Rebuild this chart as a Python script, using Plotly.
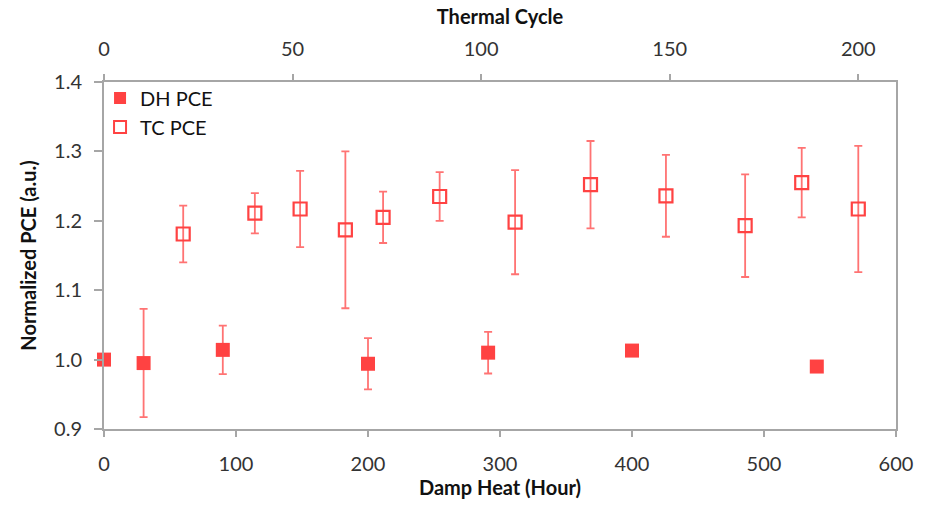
import plotly.graph_objects as go

# Damp heat series (bottom axis, hours)
dh_hours = [0, 30, 90, 200, 291, 400, 540]
dh_pce = [1.000, 0.995, 1.014, 0.994, 1.010, 1.013, 0.990]
dh_err = [0.0, 0.078, 0.035, 0.037, 0.030, 0.005, 0.0]

# Thermal cycle series (top axis, cycles)
tc_cycles = [21, 40, 52, 64, 74, 89, 109, 129, 149, 170, 185, 200]
tc_pce = [1.181, 1.211, 1.217, 1.187, 1.205, 1.235, 1.198, 1.252, 1.236, 1.193, 1.255, 1.217]
tc_err = [0.041, 0.029, 0.055, 0.113, 0.037, 0.035, 0.075, 0.063, 0.059, 0.074, 0.050, 0.091]

bottom_ticks = [0, 100, 200, 300, 400, 500, 600]
top_ticks = [0, 50, 100, 150, 200]
y_ticks = [0.9, 1.0, 1.1, 1.2, 1.3, 1.4]

RED = "#FF4242"
ERR = "rgba(255,90,90,0.85)"
AX = "#A6A6A6"
FONT = "Lato, Carlito, 'Liberation Sans', sans-serif"
TICKC = "#333"

fig = go.Figure()
fig.add_trace(go.Scatter(
    x=dh_hours, y=dh_pce, mode="markers", name="DH PCE",
    marker=dict(symbol="square", size=14, color=RED, line=dict(width=0)),
    error_y=dict(type="data", array=dh_err, color=ERR, thickness=1.8, width=4),
    cliponaxis=False,
    xaxis="x", yaxis="y",
))
fig.add_trace(go.Scatter(
    x=tc_cycles, y=tc_pce, mode="markers", name="TC PCE",
    marker=dict(symbol="square-open", size=13, color=RED, line=dict(width=2.2, color=RED)),
    error_y=dict(type="data", array=tc_err, color=ERR, thickness=1.8, width=4),
    cliponaxis=False,
    xaxis="x2", yaxis="y",
))

fig.update_layout(
    width=925, height=507,
    margin=dict(l=104, r=26, t=82, b=78),
    paper_bgcolor="white", plot_bgcolor="white",
    font=dict(family=FONT, size=20, color="#222"),
    showlegend=True,
    legend=dict(x=-0.005, y=1.01, xanchor="left", yanchor="top",
                bgcolor="rgba(0,0,0,0)", font=dict(size=20, color="#111"),
                itemsizing="constant", tracegroupgap=6, itemwidth=30),
    xaxis=dict(
        range=[0, 600], tickvals=bottom_ticks, showgrid=False, zeroline=False,
        showline=True, linecolor=AX, linewidth=2, ticks="outside", ticklen=6,
        tickcolor=AX, tickwidth=1.5, tickfont=dict(size=20, color=TICKC),
        ticklabelstandoff=10,
        title=dict(text="<b>Damp Heat (Hour)</b>", font=dict(size=20, color="#111"), standoff=6),
    ),
    xaxis2=dict(
        range=[0, 210], tickvals=top_ticks, overlaying="x", side="top", anchor="y",
        showgrid=False, zeroline=False,
        showline=True, linecolor=AX, linewidth=2, ticks="outside", ticklen=6,
        tickcolor=AX, tickwidth=1.5, tickfont=dict(size=20, color=TICKC),
        ticklabelstandoff=10,
        title=dict(text="<b>Thermal Cycle</b>", font=dict(size=20, color="#111"), standoff=6),
    ),
    yaxis=dict(
        range=[0.9, 1.4], tickvals=y_ticks, tickformat=".1f", showgrid=False, zeroline=False,
        showline=True, linecolor=AX, linewidth=2, mirror=True, ticks="outside", ticklen=8,
        tickcolor=AX, tickwidth=1.5, tickfont=dict(size=20, color=TICKC),
        ticklabelstandoff=8,
        title=dict(text="<b>Normalized PCE (a.u.)</b>", font=dict(size=20, color="#111"), standoff=12),
    ),
)

fig.write_html("out.html")
